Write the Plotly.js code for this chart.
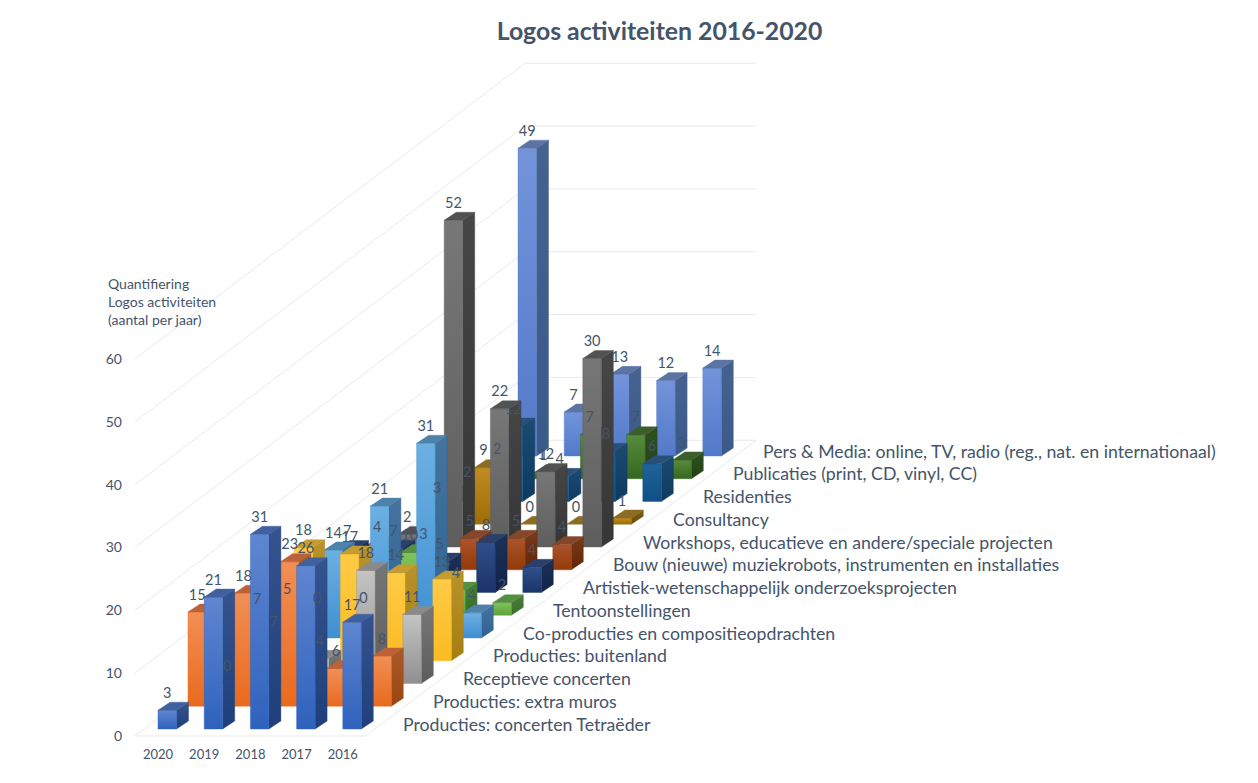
<!DOCTYPE html>
<html>
<head>
<meta charset="utf-8">
<script src="https://cdn.plot.ly/plotly-3.0.0.min.js"></script>
<style>html,body{margin:0;padding:0;background:#fff}#chart{width:1258px;height:783px}</style>
</head>
<body>
<div id="chart"></div>
<script>
// ---- data (years run front-left to right; series run front to back)
var years = ['2020', '2019', '2018', '2017', '2016'];
var categories = [
  'Producties: concerten Tetraëder',
  'Producties: extra muros',
  'Receptieve concerten',
  'Producties: buitenland',
  'Co-producties en compositieopdrachten',
  'Tentoonstellingen',
  'Artistiek-wetenschappelijk onderzoeksprojecten',
  'Bouw (nieuwe) muziekrobots, instrumenten en installaties',
  'Workshops, educatieve en andere/speciale projecten',
  'Consultancy',
  'Residenties',
  'Publicaties (print, CD, vinyl, CC)',
  'Pers & Media: online, TV, radio (reg., nat. en internationaal)'
];
var tetraeder    = [3, 21, 31, 26, 17];
var extraMuros   = [15, 18, 23, 6, 8];
var receptief    = [0, 7, 4, 18, 11];
var buitenland   = [7, 18, 17, 14, 13];
var coProducties = [5, 14, 21, 31, 4];
var tentoon      = [0, 0, 10, 4, 2];
var onderzoek    = [7, 7, 5, 8, 4];
var bouw         = [4, 3, 5, 5, 4];
var workshops    = [2, 52, 22, 12, 30];
var consultancy  = [3, 9, 0, 0, 1];
var residenties  = [2, 12, 4, 8, 6];
var publicaties  = [2, 1, 7, 7, 3];
var persMedia    = [49, 7, 13, 12, 14];
var allSeries = [tetraeder, extraMuros, receptief, buitenland, coProducties, tentoon,
                 onderzoek, bouw, workshops, consultancy, residenties, publicaties, persMedia];
var yTicks = [0, 10, 20, 30, 40, 50, 60];

// ---- styles: front top, front bottom, side top, side bottom, top face
var palette = [
  ['#5f86d0', '#2f62bd', '#34538f', '#1f3f7b', '#40609f'],
  ['#f18f55', '#e96a1e', '#ab5a2c', '#99460f', '#bd6238'],
  ['#c4c4c4', '#8f8f8f', '#777777', '#5c5c5c', '#8a8a8a'],
  ['#ffcb45', '#fbbb22', '#b8922a', '#a67f12', '#c59c2f'],
  ['#6cb0e2', '#3f8fd2', '#44739e', '#2f6391', '#4f82aa'],
  ['#7fc35c', '#5fa23a', '#46803a', '#386e28', '#558f42'],
  ['#304f8a', '#1a3468', '#1c3058', '#11234a', '#2a3f6a'],
  ['#ab532c', '#933a08', '#7a3a1c', '#622604', '#85472c'],
  ['#777777', '#5e5e5e', '#464646', '#363636', '#525252'],
  ['#c18b22', '#9c6e08', '#80611c', '#694b06', '#8c6c22'],
  ['#1f6399', '#104f85', '#1c4a70', '#0e3a60', '#2a5078'],
  ['#578c3c', '#36661f', '#2f5220', '#223f14', '#3c5e2a'],
  ['#7394da', '#5279c9', '#46628f', '#3a5a8a', '#5c74a4']
];
var textColor = '#44546a';
var gridColor = '#e9e9e9';

// ---- oblique projection, in axis units (1 column, 1 count)
var W = 1258, H = 783;
var pxCol = 46.2, pxVal = 6.283, x0Px = 158, y0Px = 736;
var rowDx = 30 / pxCol, rowDy = 22.75 / pxVal;
var depthDx = 12 / pxCol, depthDy = 8 / pxVal;
var barW = 18.5 / pxCol, baseLift = 7 / pxVal;
var nRows = categories.length;

var traces = [];
function poly(xs, ys, colors) {
  var t = {
    type: 'scatter', x: xs.concat(xs[0]), y: ys.concat(ys[0]),
    mode: 'lines', fill: 'toself', hoverinfo: 'skip', showlegend: false,
    line: {width: 0.4, color: colors[colors.length - 1]}
  };
  if (colors.length > 1) {
    t.fillgradient = {type: 'vertical', colorscale: [[0, colors[1]], [1, colors[0]]]};
  } else {
    t.fillcolor = colors[0];
  }
  traces.push(t);
}
function gridLine(xs, ys) {
  traces.push({type: 'scatter', x: xs, y: ys, mode: 'lines', hoverinfo: 'skip', showlegend: false,
               line: {width: 1, color: gridColor}});
}

// walls and floor
var left = -0.5, right = 4.5, backDx = nRows * rowDx, backDy = nRows * rowDy;
yTicks.forEach(function (v) {
  gridLine([left, left + backDx, right + backDx], [v, v + backDy, v + backDy]);
});
gridLine([left, right, right + backDx], [0, 0, backDy]);

// bars, back to front
var lx = [], ly = [], lt = [];
for (var r = nRows - 1; r >= 0; r--) {
  var vals = allSeries[r], c = palette[r];
  for (var i = 0; i < years.length; i++) {
    var xa = i + r * rowDx, xb = xa + barW;
    var y0 = baseLift + r * rowDy, y1 = y0 + vals[i];
    if (vals[i] > 0) {
      poly([xb, xb + depthDx, xb + depthDx, xb], [y0, y0 + depthDy, y1 + depthDy, y1], [c[2], c[3]]);
      poly([xa, xb, xb, xa], [y0, y0, y1, y1], [c[0], c[1]]);
    }
    poly([xa, xb, xb + depthDx, xa + depthDx], [y1, y1, y1 + depthDy, y1 + depthDy], [c[4]]);
    lx.push(xa + barW / 2);
    ly.push(y1 + 16 / pxVal);
    lt.push(String(vals[i]));
  }
}
// value labels on top of every bar
traces.push({
  type: 'scatter', mode: 'text', x: lx, y: ly, text: lt, textposition: 'middle center',
  textfont: {family: 'Lato, sans-serif', size: 14.5, color: textColor},
  hoverinfo: 'skip', showlegend: false, cliponaxis: false
});

// category labels along the floor's right edge
var annotations = categories.map(function (name, k) {
  return {
    text: name, xref: 'x', yref: 'y', showarrow: false, xanchor: 'left', yanchor: 'middle',
    x: (401 - x0Px) / pxCol + k * rowDx, y: (y0Px - 724) / pxVal + k * rowDy,
    font: {family: 'Lato, sans-serif', size: 17.7, color: textColor}
  };
});
annotations.push({
  text: 'Quantifiering<br>Logos activiteiten<br>(aantal per jaar)',
  xref: 'paper', yref: 'paper', showarrow: false, xanchor: 'left', yanchor: 'middle', align: 'left',
  x: (106 - 127) / (W - 127), y: 1 - 301 / (H - 38),
  font: {family: 'Lato, sans-serif', size: 14, color: textColor}
});

var mL = 127, mB = 38;
var layout = {
  width: W, height: H, autosize: false, showlegend: false,
  paper_bgcolor: '#fff', plot_bgcolor: '#fff',
  margin: {l: mL, r: 0, t: 0, b: mB, pad: 0},
  title: {
    text: 'Logos activiteiten 2016-2020', x: 659.5 / W, xanchor: 'center', y: 1 - 31 / H, yanchor: 'middle',
    xref: 'container', yref: 'container',
    font: {family: 'Lato, sans-serif', size: 24.8, weight: 700, color: textColor}
  },
  xaxis: {
    range: [(mL - x0Px) / pxCol, (W - x0Px) / pxCol], showgrid: false, zeroline: false, showline: false,
    tickmode: 'array', tickvals: years.map(function (_, i) { return i; }), ticktext: years,
    ticks: '', tickfont: {family: 'Lato, sans-serif', size: 13, color: textColor}
  },
  yaxis: {
    range: [(y0Px - (H - mB)) / pxVal, y0Px / pxVal], showgrid: false, zeroline: false, showline: false,
    tickmode: 'array', tickvals: yTicks, ticks: '', ticklabelstandoff: 4,
    tickfont: {family: 'Lato, sans-serif', size: 14, color: textColor}
  },
  annotations: annotations
};
Plotly.newPlot('chart', traces, layout, {displayModeBar: false, staticPlot: true});
</script>
</body>
</html>
